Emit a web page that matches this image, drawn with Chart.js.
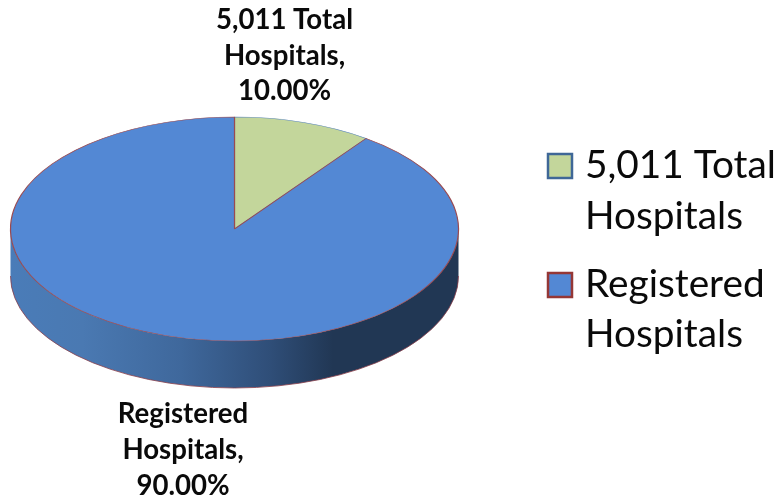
<!DOCTYPE html>
<html>
<head>
<meta charset="utf-8">
<style>html,body{margin:0;padding:0;background:#fff}canvas{display:block}</style>
<script src="https://cdn.jsdelivr.net/npm/chart.js@4"></script>
</head>
<body>
<canvas id="c" width="780" height="501"></canvas>
<script>
const categories = ["5,011 Total Hospitals", "Registered Hospitals"];
const values = [10, 90];
const percentLabels = ["10.00%", "90.00%"];
const sliceColors = ["#C3D69B", "#5388D4"];

const SQUASH = 0.5;
const DEPTH = 47;
const text = "#0a0a0a";

function lines(ctx, arr, x, ys, font, align) {
  ctx.save();
  ctx.font = font; ctx.fillStyle = text; ctx.textAlign = align; ctx.textBaseline = "alphabetic";
  arr.forEach((t, i) => ctx.fillText(t, x, ys[i]));
  ctx.restore();
}

const pie3d = {
  id: "pie3d",
  beforeDatasetsDraw(chart) {
    const ctx = chart.ctx, arc = chart.getDatasetMeta(0).data[0];
    const x = arc.x, y = arc.y, r = arc.outerRadius, ry = r * SQUASH;
    ctx.save();
    const g = ctx.createLinearGradient(x - r, 0, x + r, 0);
    g.addColorStop(0, "#4A7CB8");
    g.addColorStop(0.16, "#4A79B2");
    g.addColorStop(0.38, "#3F689C");
    g.addColorStop(0.58, "#2F4E78");
    g.addColorStop(0.72, "#213754");
    g.addColorStop(1, "#213754");
    ctx.beginPath();
    ctx.ellipse(x, y, r, ry, 0, Math.PI, 0, true);
    ctx.lineTo(x + r, y + DEPTH);
    ctx.ellipse(x, y + DEPTH, r, ry, 0, 0, Math.PI, false);
    ctx.closePath();
    ctx.fillStyle = g;
    ctx.fill();
    ctx.beginPath();
    ctx.ellipse(x, y + DEPTH, r, ry, 0, 0, Math.PI, false);
    ctx.strokeStyle = "#8A3F4A"; ctx.lineWidth = 0.8; ctx.stroke();
    ctx.restore();
    // flatten the top face about the pie centre
    ctx.save();
    ctx.translate(0, y); ctx.scale(1, SQUASH); ctx.translate(0, -y);
  },
  afterDatasetsDraw(chart) {
    const ctx = chart.ctx;
    ctx.restore();
    const labelFont = "bold 27.6px Lato";
    lines(ctx, ["5,011 Total", "Hospitals,", percentLabels[0]], 284.5, [29, 65, 100], labelFont, "center");
    lines(ctx, ["Registered", "Hospitals,", percentLabels[1]], 183, [423, 459, 495], labelFont, "center");
    const legendFont = "38.8px Lato";
    [[154, ["5,011 Total", "Hospitals"], [178, 229]], [273, ["Registered", "Hospitals"], [297, 347]]].forEach((e, i) => {
      ctx.save();
      ctx.fillStyle = sliceColors[i];
      ctx.strokeStyle = i === 0 ? "#3F6797" : "#953735";
      ctx.lineWidth = 2.5;
      ctx.fillRect(548, e[0], 24, 24);
      ctx.strokeRect(548, e[0], 24, 24);
      ctx.restore();
      lines(ctx, e[1], 585, e[2], legendFont, "left");
    });
  }
};

new Chart(document.getElementById("c"), {
  type: "pie",
  data: {
    labels: categories,
    datasets: [{
      data: values,
      backgroundColor: sliceColors,
      borderColor: ["#5B86B8", "#9A4A50"],
      borderWidth: 1.2
    }]
  },
  options: {
    responsive: false,
    animation: false,
    events: [],
    radius: 224,
    layout: { padding: { left: 10, right: 321, top: 4, bottom: 47 } },
    plugins: { legend: { display: false }, tooltip: { enabled: false } }
  },
  plugins: [pie3d]
});
</script>
</body>
</html>
